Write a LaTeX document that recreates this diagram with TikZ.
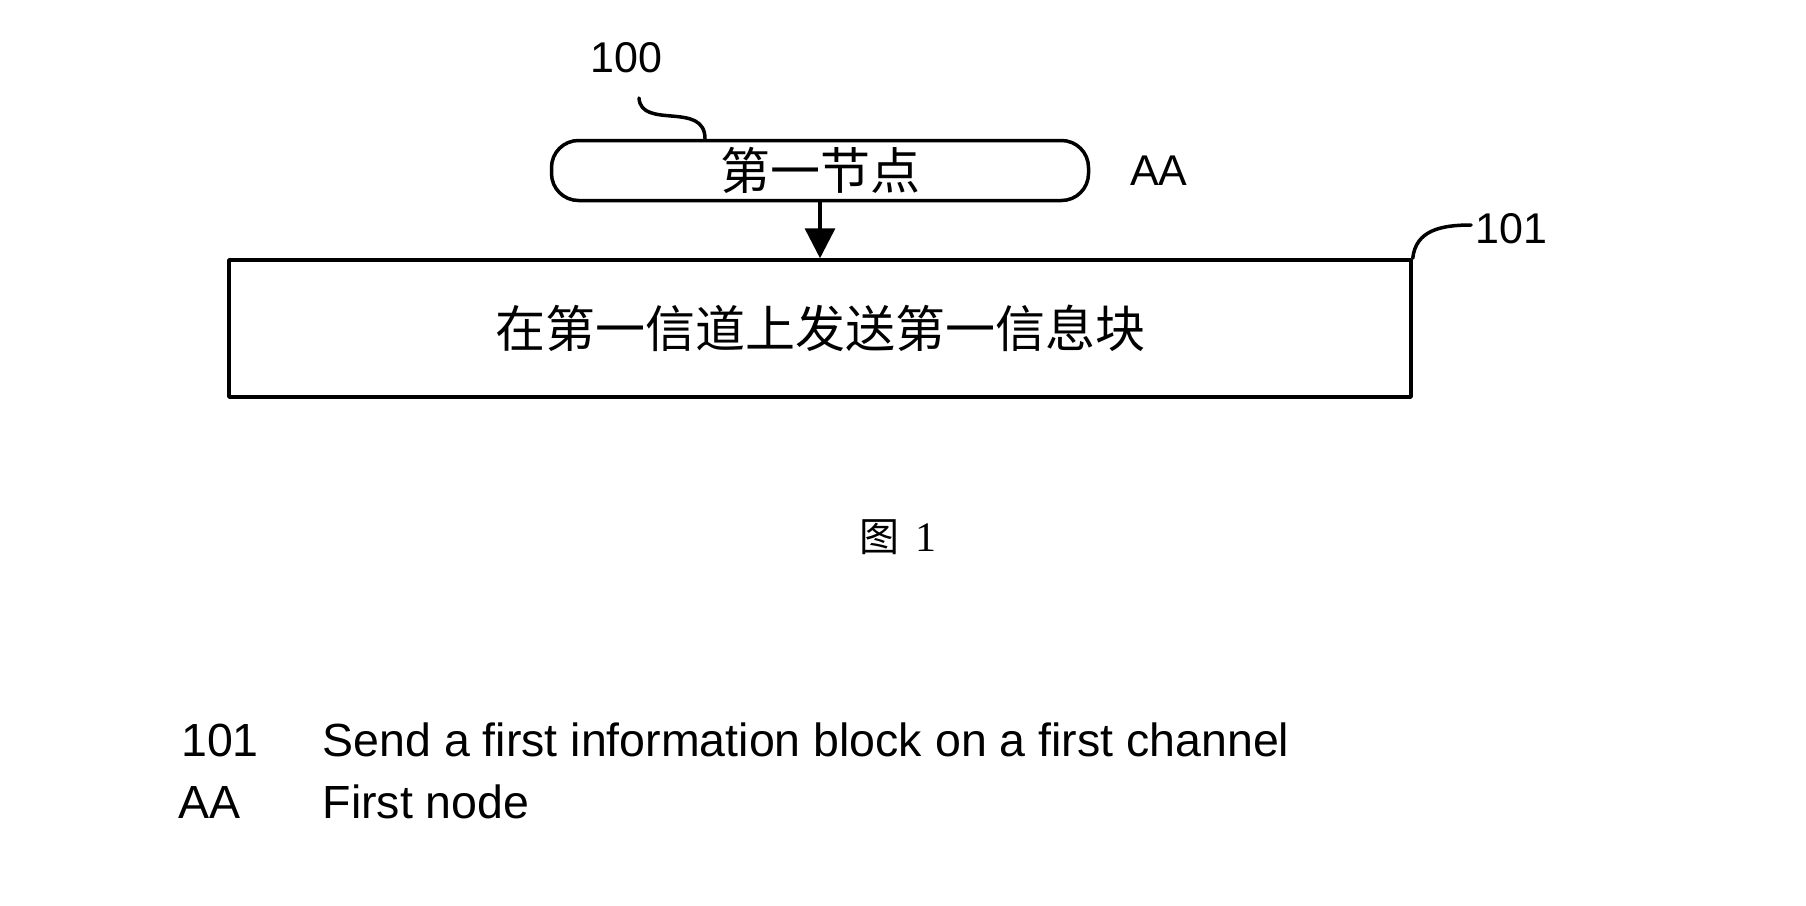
\documentclass[tikz,border=0pt]{standalone}
\usepackage{fontspec}
\setmainfont{Liberation Sans}
\newfontfamily\cjk{Noto Sans CJK SC}
\newfontfamily\figserif{Liberation Serif}
\usetikzlibrary{arrows.meta}
\tikzset{
	nodebox/.style={draw,line width=3.5pt,rounded corners=27pt,minimum width=537pt,minimum height=60pt,inner sep=0pt,font=\cjk\fontsize{50}{58}\selectfont},
	stepbox/.style={draw,line width=3.5pt,minimum width=1182pt,minimum height=137pt,inner sep=0pt,font=\cjk\fontsize{50}{60}\selectfont},
	reflabel/.style={anchor=base west,inner sep=0pt,font=\fontsize{43}{50}\selectfont},
	legend/.style={anchor=base west,inner sep=0pt,font=\fontsize{46.5}{54}\selectfont},
	leader/.style={line width=3.5pt}
}
\begin{document}
\begin{tikzpicture}[line cap=round,line join=round,>={Triangle[length=30pt,width=30pt]},x=1pt,y=-1pt]
		\useasboundingbox (0,0) rectangle (1806,905);
		% flow chart
		\node[nodebox] (firstnode) at (820,170.5) {第一节点};
		\node[stepbox] (sendstep) at (820,328.5) {在第一信道上发送第一信息块};
		\draw [line width=3.5pt,->] (firstnode.south) -- (sendstep.north);
		% reference signs
		\node[reflabel] (lbl100) at (590,72.5) {100};
		\node[reflabel] (lblAA) at (1130,185) {AA};
		\node[reflabel] (lbl101) at (1475,243) {101};
		\coordinate (lead100) at (639,98);
		\coordinate (lead101) at (1471,225);
		\draw [leader] (lead100) .. controls +(2,32) and +(0,-38) .. ([xshift=-115pt]firstnode.north);
		\draw [leader] (sendstep.north east) .. controls +(3,-28) and +(-30,0) .. (lead101);
		% caption
		\node[inner sep=0pt] (caption) at (898,537) {{\cjk\fontsize{40}{48}\selectfont 图}\hspace{16pt}{\figserif\fontsize{42}{48}\selectfont 1}};
		% legend
		\node[legend] (key101) at (181,756.5) {101};
		\node[legend] (text101) at (322.5,756.5) {Send a first information block on a first channel};
		\node[legend] (keyAA) at (178.5,818) {AA};
		\node[legend] (textAA) at (322.5,818) {First node};
	\end{tikzpicture}
\end{document}
